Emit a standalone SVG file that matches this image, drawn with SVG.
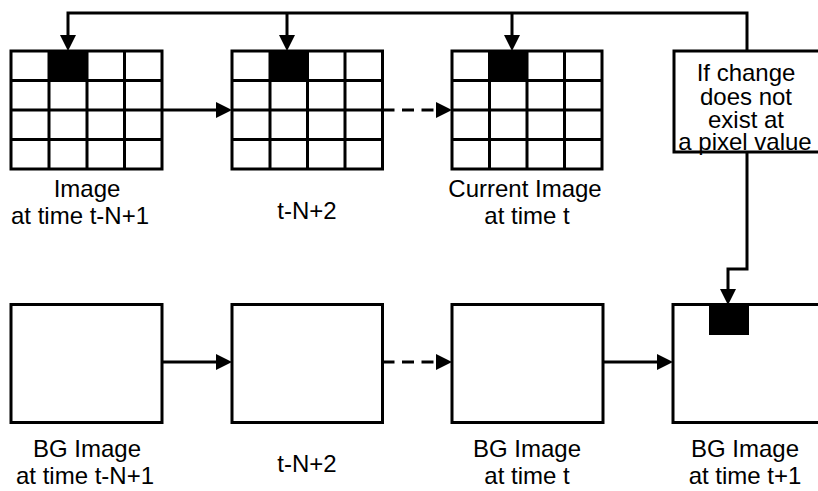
<svg xmlns="http://www.w3.org/2000/svg" width="818" height="491" viewBox="0 0 818 491">
<style>
.box{fill:#fff;stroke:#000;stroke-width:3}
.gl{stroke:#000;stroke-width:3;fill:none}
.blk{fill:#000}
.ln{stroke:#000;stroke-width:3;fill:none}
.dash{stroke-dasharray:12 7.5}
text{font-family:"Liberation Sans",Arial,sans-serif;font-size:24px;fill:#000;text-anchor:middle}
</style>
<defs>
<marker id="ah" markerUnits="userSpaceOnUse" markerWidth="16" markerHeight="16" refX="6" refY="8" orient="auto" overflow="visible">
<path d="M0,0 L16,8 L0,16 Z" style="fill:#000;stroke:none"/>
</marker>
</defs>
<rect width="818" height="491" fill="#fff"/>

<g id="grid1">
<rect class="blk" x="49" y="51" width="38" height="29.5"/>
<rect class="box" x="11" y="51" width="151" height="118" style="fill:none"/>
<path class="gl" d="M49,51V169M87,51V169M124.5,51V169M11,80.5H162M11,110H162M11,139.5H162"/>
<text x="87" y="197">Image</text>
<text x="80" y="224">at time t-N+1</text>
</g>

<g id="grid2">
<rect class="blk" x="270" y="51" width="37.5" height="29.5"/>
<rect class="box" x="232" y="51" width="150.5" height="118" style="fill:none"/>
<path class="gl" d="M270,51V169M307.5,51V169M345,51V169M232,80.5H382.5M232,110H382.5M232,139.5H382.5"/>
<text x="307" y="219">t-N+2</text>
</g>

<g id="grid3">
<rect class="blk" x="489.5" y="51" width="37.5" height="29.5"/>
<rect class="box" x="452" y="51" width="150" height="118" style="fill:none"/>
<path class="gl" d="M489.5,51V169M527,51V169M564.5,51V169M452,80.5H602M452,110H602M452,139.5H602"/>
<text x="525" y="197">Current Image</text>
<text x="527" y="224">at time t</text>
</g>

<g id="condition">
<rect class="box" x="674" y="51" width="150" height="101"/>
<text x="746" y="81">If change</text>
<text x="746" y="105">does not</text>
<text x="746" y="128">exist at</text>
<text x="745" y="150">a pixel value</text>
</g>

<g id="bg1">
<rect class="box" x="11" y="304.5" width="151" height="118"/>
<text x="87" y="457">BG Image</text>
<text x="85" y="484">at time t-N+1</text>
</g>

<g id="bg2">
<rect class="box" x="232" y="304.5" width="150.5" height="118"/>
<text x="307" y="472">t-N+2</text>
</g>

<g id="bg3">
<rect class="box" x="452" y="304.5" width="151" height="118"/>
<text x="527" y="457">BG Image</text>
<text x="527" y="484">at time t</text>
</g>

<g id="bg4">
<rect class="box" x="673" y="304.5" width="150" height="118"/>
<rect class="blk" x="709" y="305" width="40" height="30"/>
<text x="745" y="457">BG Image</text>
<text x="745" y="484">at time t+1</text>
</g>

<g id="connectors">
<path class="ln" d="M747,51V13H68V41" marker-end="url(#ah)"/>
<path class="ln" d="M287,13V41" marker-end="url(#ah)"/>
<path class="ln" d="M512,13V41" marker-end="url(#ah)"/>
<path class="ln" d="M747,152V269H728V295" marker-end="url(#ah)"/>
<path class="ln" d="M162,110H222" marker-end="url(#ah)"/>
<path class="ln dash" d="M382.5,110H442" marker-end="url(#ah)"/>
<path class="ln" d="M162,362H222" marker-end="url(#ah)"/>
<path class="ln dash" d="M382.5,362H442" marker-end="url(#ah)"/>
<path class="ln" d="M603,362H663" marker-end="url(#ah)"/>
</g>
</svg>
